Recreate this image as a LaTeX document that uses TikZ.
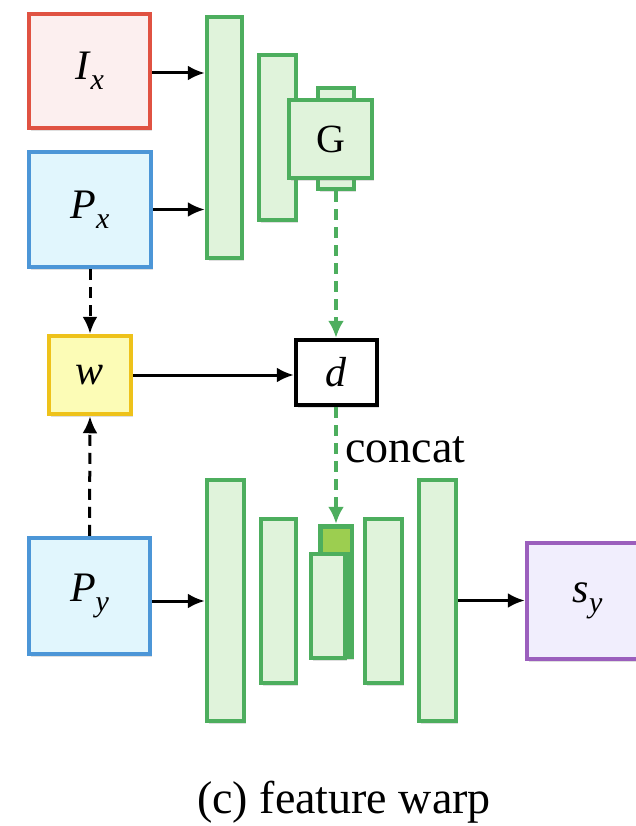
\documentclass[tikz,border=0pt]{standalone}
\usepackage{fontspec}
\setmainfont{Liberation Serif}
\usetikzlibrary{arrows.meta,shadows}

\definecolor{redline}{RGB}{224,82,66}
\definecolor{redfill}{RGB}{252,239,239}
\definecolor{blueline}{RGB}{76,150,215}
\definecolor{bluefill}{RGB}{225,246,253}
\definecolor{yelline}{RGB}{238,194,26}
\definecolor{yelfill}{RGB}{252,252,182}
\definecolor{grnline}{RGB}{77,174,94}
\definecolor{grnfill}{RGB}{224,243,219}
\definecolor{limefill}{RGB}{156,206,80}
\definecolor{purline}{RGB}{155,95,189}
\definecolor{purfill}{RGB}{241,238,253}

% italic symbol with a lowered, smaller italic index
\newcommand\symsub[2]{\textit{#1}\raisebox{-0.25em}{\fontsize{30}{30}\selectfont\textit{#2}}}

\tikzset{
  shade/.style={drop shadow={opacity=0.25, shadow xshift=2pt, shadow yshift=-3pt}},
  blk/.style={rectangle, inner sep=0pt, line width=4.5pt, shade,
              font=\fontsize{42}{42}\selectfont},
  inbox/.style={blk, draw=#1line, fill=#1fill},
  layer/.style={blk, draw=grnline, fill=grnfill},
  arr/.style={line width=3pt, -{Latex[length=17pt,width=15pt]}},
  darr/.style={arr, dash pattern=on 11pt off 7pt},
  garr/.style={line width=3.2pt, grnline, dash pattern=on 11pt off 7pt,
               -{Latex[length=17pt,width=16pt]}},
}

\begin{document}
\begin{tikzpicture}[x=1pt,y=-1pt]
\useasboundingbox (0,0) rectangle (636,826);
\clip (0,0) rectangle (636,826);

% inputs
\node[inbox=red,  minimum width=121pt, minimum height=114pt] (Ix) at (89.5,71) {\symsub{I}{x}};
\node[inbox=blue, minimum width=122pt, minimum height=115pt] (Px) at (90,209.5) {\symsub{P}{x}};
\node[inbox=blue, minimum width=121pt, minimum height=116pt] (Py) at (89.5,596) {\symsub{P}{y}};

% encoder
\node[layer, minimum width=35pt, minimum height=241pt] (E1) at (224.5,137.5) {};
\node[layer, minimum width=37pt, minimum height=165pt] (E2) at (277.5,137.5) {};
\node[layer, minimum width=36pt, minimum height=101pt] (Gt) at (336,138.5) {};
\node[layer, minimum width=83pt, minimum height=78pt, font=\fontsize{40}{40}\selectfont] (G) at (330.5,139) {G};

% warp and displacement
\node[inbox=yel, minimum width=82pt, minimum height=78pt] (w) at (90,375) {\textit{w}};
\node[blk, draw=black, fill=white, minimum width=81pt, minimum height=65pt] (d) at (336.5,372.5) {\textit{d}};

% decoder
\node[layer, minimum width=37pt, minimum height=241pt] (D1) at (225.5,600.5) {};
\node[layer, minimum width=35pt, minimum height=164pt] (D2) at (278.5,601) {};
\node[blk, draw=grnline, fill=grnline, minimum width=32pt, minimum height=131pt] (C) at (336,591.5) {};
\fill[limefill] (322.5,528.5) rectangle (349.5,552);
\node[layer, minimum width=34pt, minimum height=104pt] (D3) at (328,606) {};
\node[layer, minimum width=37pt, minimum height=164pt] (D4) at (383.5,601) {};
\node[layer, minimum width=37pt, minimum height=241pt] (D5) at (437.5,600.5) {};

% output
\node[inbox=pur, minimum width=121pt, minimum height=116pt] (Sy) at (587.5,601) {\symsub{s}{y}};

% connectors
\draw[arr] ([yshift=-2pt]Ix.east) -- ([yshift=-2pt]Ix.east -| E1.west);
\draw[arr] (Px.east) -- (Px.east -| E1.west);
\draw[darr] (Px.south) -- (w.north);
\draw[darr] (Py.north) -- (w.south);
\draw[arr] (w.east) -- (w.east -| d.west);
\draw[garr] (Gt.south) -- (Gt.south |- d.north);
\draw[garr] (d.south -| C.north) -- (C.north);
\draw[arr] ([yshift=-5pt]Py.east) -- ([yshift=-5pt]Py.east -| D1.west);
\draw[arr] (D5.east) -- (D5.east -| Sy.west);

% texts
\node[anchor=base west, inner sep=0pt, font=\fontsize{46}{46}\selectfont] (cat) at (345,462) {concat};
\node[anchor=base, inner sep=0pt, font=\fontsize{46}{46}\selectfont] (cap) at (344,813) {(c) feature warp};
\end{tikzpicture}
\end{document}
